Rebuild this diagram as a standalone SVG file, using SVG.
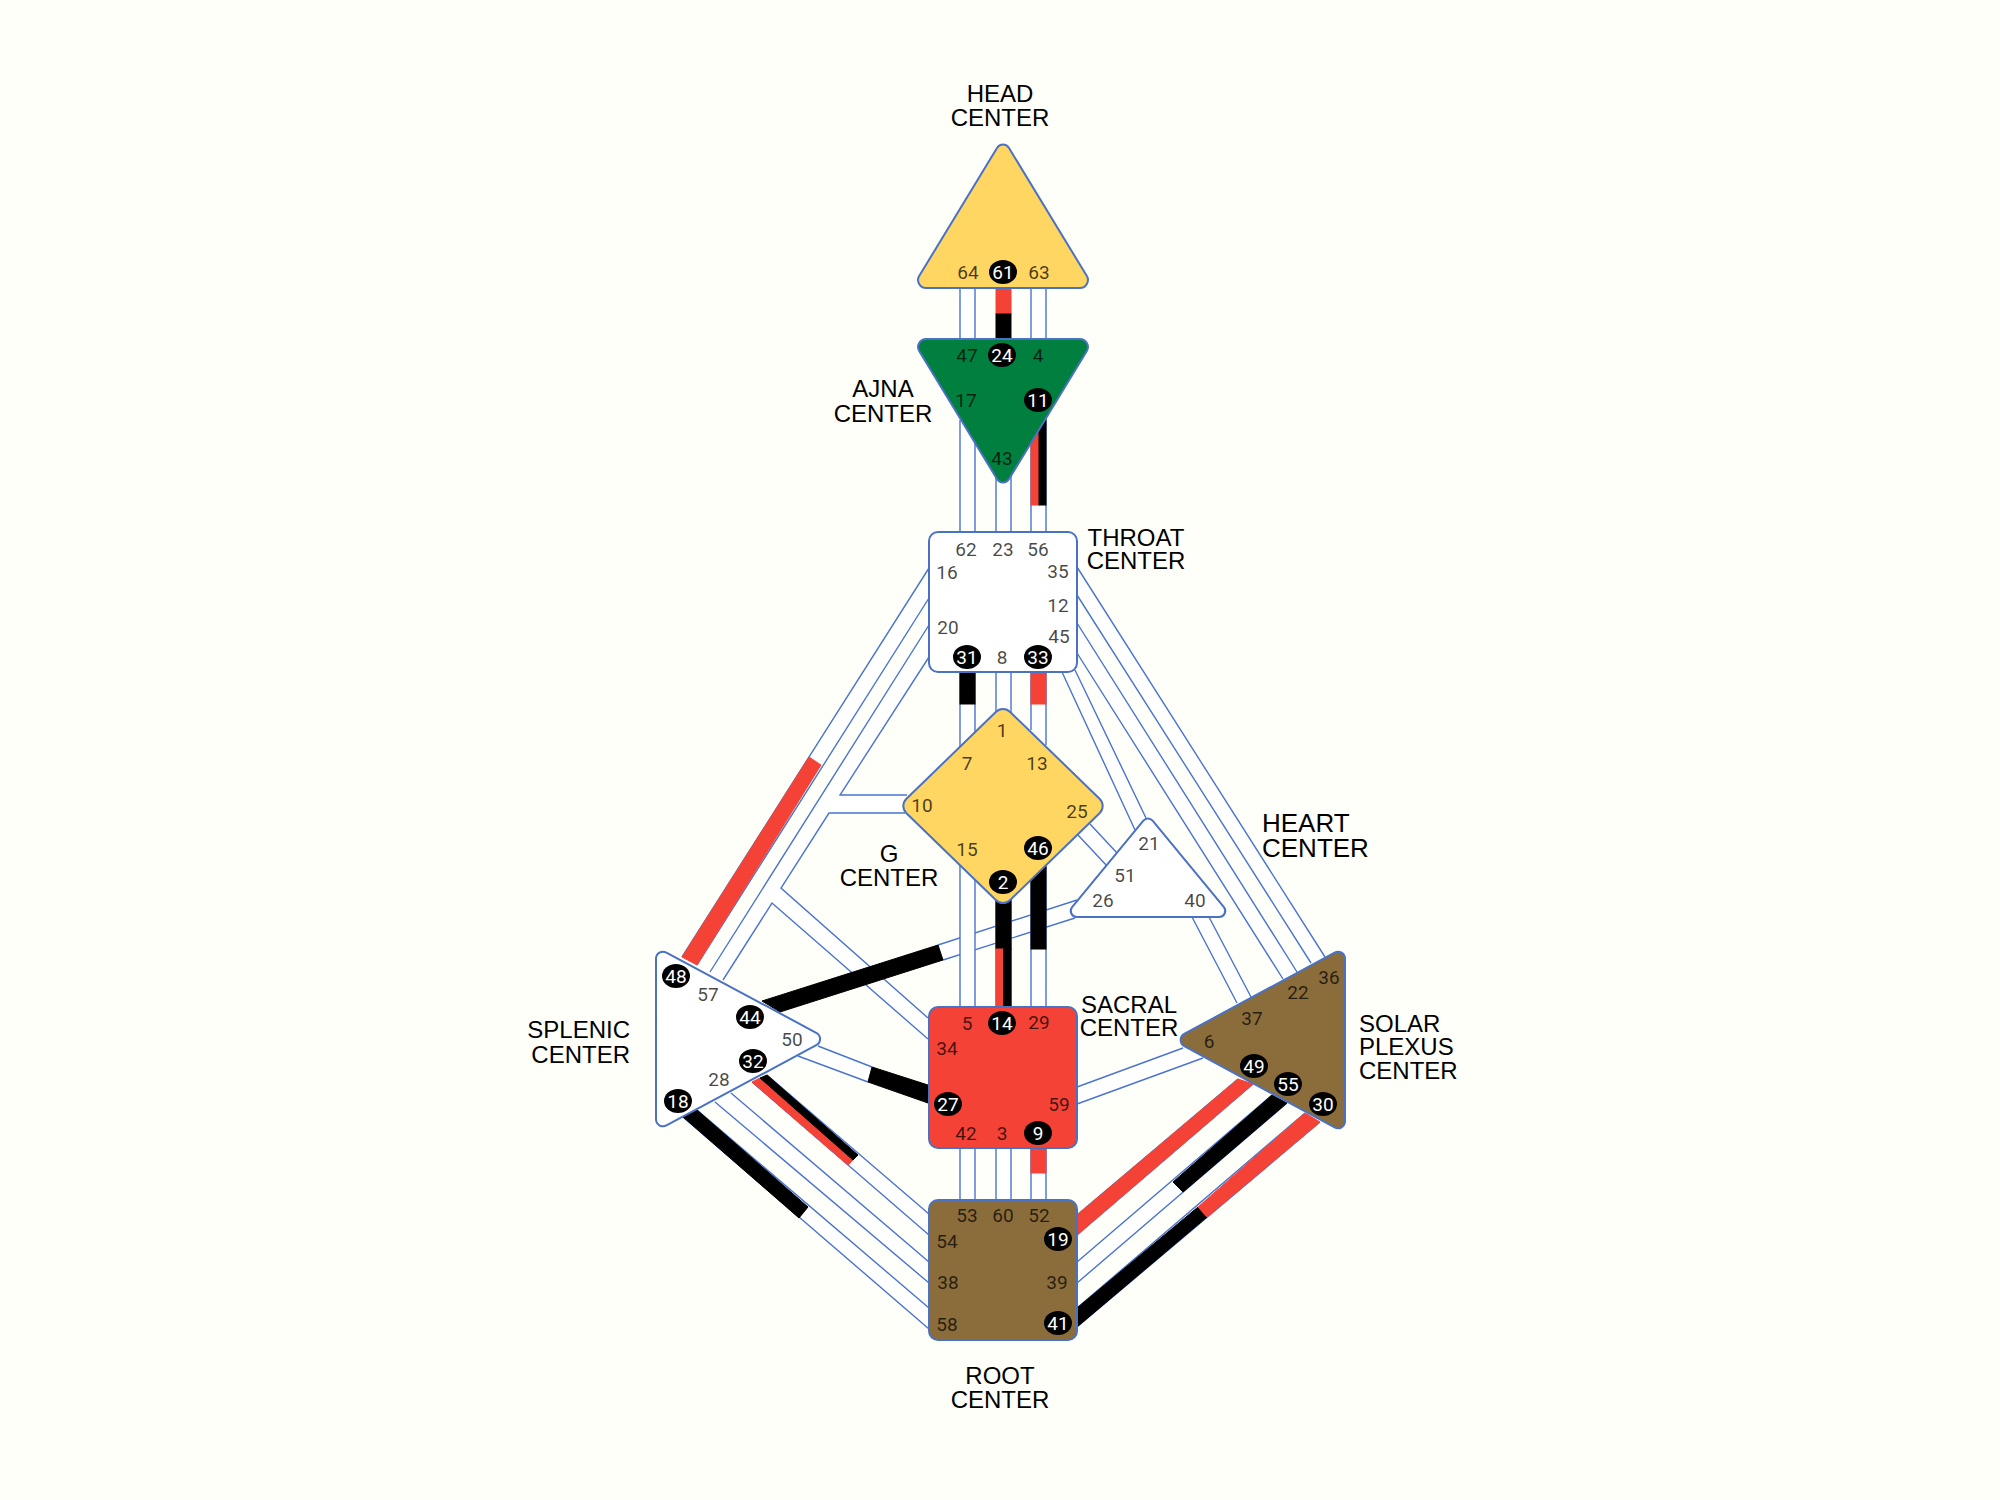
<svg xmlns="http://www.w3.org/2000/svg" width="2000" height="1500" viewBox="0 0 2000 1500">
<style>
.w{fill:#fff;stroke:none}
.l{fill:none;stroke:#4a74cf;stroke-width:1.4}
.k{fill:#000;stroke:#000;stroke-width:1}
.r{fill:#f44336;stroke:#f44336;stroke-width:1}
.n{stroke:#4a72c4;stroke-width:2}
.g{font-family:Roboto,"Liberation Sans",sans-serif;font-size:19px;text-anchor:middle;fill:#000;fill-opacity:.72}
.a{fill:#000;stroke:none}
.t{font-family:Roboto,"Liberation Sans",sans-serif;font-size:19px;text-anchor:middle;fill:#fff}
.c{font-family:"Liberation Sans",Arial,sans-serif;font-size:24px;fill:#000;text-anchor:middle}
.s{text-anchor:start}
.e{text-anchor:end}
.h{font-size:26px;text-anchor:start}
</style>
<rect width="2000" height="1500" fill="#fffff9"/>
<g id="connectors">
  <path class="w" d="M929,568L929,598L697,965L682,957Z"/>
  <path class="l" d="M929,568L682,957M929,598L697,965"/>
  <path class="r" d="M809,757L821,765L697,965L682,957Z"/>
  <path class="w" d="M929,625L929,657L840,795L905,795L905,813L829,813L781,888L928,1018L928,1039L772,903L723,980L710,972Z"/>
  <path class="l" d="M929,625L710,972M929,657L840,795L907,795M905,813L829,813L781,888L928,1018M928,1039L772,903L723,980"/>
  <path class="w" d="M683,1117L697,1110L929,1308L929,1329Z"/>
  <path class="l" d="M683,1117L929,1329M697,1110L929,1308"/>
  <path class="k" d="M683,1117L697,1110L808,1207L799,1218Z"/>
  <path class="w" d="M715,1102L731,1093L929,1262L929,1283Z"/>
  <path class="l" d="M715,1102L929,1283M731,1093L929,1262"/>
  <path class="w" d="M752,1082L767,1075L929,1214L929,1235Z"/>
  <path class="l" d="M752,1082L929,1235M767,1075L929,1214"/>
  <path class="r" d="M752,1082L760,1078L853,1160L848,1165Z"/>
  <path class="k" d="M760,1078L767,1075L858,1155L853,1160Z"/>
  <path class="w" d="M818,1046L798,1056L868,1082L872,1067Z"/>
  <path class="l" d="M818,1046L872,1067M798,1056L868,1082"/>
  <path class="k" d="M872,1067L868,1082L928,1103L928,1085Z"/>
  <path class="w" d="M1077,1087L1183,1048L1203,1058L1077,1104Z"/>
  <path class="l" d="M1077,1087L1183,1048M1077,1104L1203,1058"/>
  <path class="l" d="M1077,1215L1238,1079M1077,1235L1253,1084"/>
  <path class="r" d="M1077,1215L1238,1079L1253,1084L1077,1235Z"/>
  <path class="w" d="M1077,1262L1272,1095L1287,1103L1077,1283Z"/>
  <path class="l" d="M1077,1262L1272,1095M1077,1283L1287,1103"/>
  <path class="k" d="M1173,1182L1272,1095L1287,1103L1183,1192Z"/>
  <path class="l" d="M1077,1308L1305,1113M1077,1327L1320,1122"/>
  <path class="k" d="M1077,1308L1198,1207L1207,1217L1077,1327Z"/>
  <path class="r" d="M1198,1207L1305,1113L1320,1122L1207,1217Z"/>
  <path class="w" d="M1077,567L1325,957L1311,963L1077,595Z"/>
  <path class="l" d="M1077,567L1325,957M1077,595L1311,963"/>
  <path class="w" d="M1077,623L1297,972L1283,979L1077,653Z"/>
  <path class="l" d="M1077,623L1297,972M1077,653L1283,979"/>
  <path class="w" d="M1062,672L1075,670L1146,818L1135,830Z"/>
  <path class="l" d="M1062,672L1135,830M1075,670L1146,818"/>
  <path class="w" d="M1192,917L1209,917L1251,997L1237,1003Z"/>
  <path class="l" d="M1192,917L1237,1003M1209,917L1251,997"/>
  <path class="w" d="M1090,824L1117,853L1107,866L1078,835Z"/>
  <path class="l" d="M1090,824L1117,853M1078,835L1107,866"/>
  <path class="w" d="M938,945L1077,900L1075,918L943,960Z"/>
  <path class="l" d="M938,945L1077,900M943,960L1075,918"/>
  <path class="k" d="M762,1001L938,945L943,960L780,1012Z"/>
  <path class="w" d="M960,288H975V340H960ZM1031,288H1046V340H1031ZM960,420H975V532H960ZM996,470H1011V532H996ZM1031,420H1046V532H1031ZM960,672H975V760H960ZM996,672H1011V720H996ZM1031,672H1046V760H1031ZM960,850H975V1007H960ZM1031,860H1046V1007H1031ZM960,1148H975V1200H960ZM996,1148H1011V1200H996ZM1031,1148H1046V1200H1031Z"/>
  <path class="l" d="M960,288V340M975,288V340M1031,288V340M1046,288V340M960,420V532M975,440V532M996,470V532M1011,470V532M1031,420V532M1046,420V532M960,672V760M975,672V740M996,672V720M1011,672V720M1031,672V730M1046,672V745M960,850V1007M975,870V1007M996,890V1007M1011,890V1007M1031,870V1007M1046,850V1007M960,1148V1200M975,1148V1200M996,1148V1200M1011,1148V1200M1031,1148V1200M1046,1148V1200"/>
  <rect class="r" x="996" y="288" width="15" height="26"/>
  <rect class="k" x="996" y="314" width="15" height="26"/>
  <rect class="r" x="1031" y="420" width="8" height="85"/>
  <rect class="k" x="1039" y="410" width="7" height="95"/>
  <rect class="k" x="960" y="672" width="15" height="32"/>
  <rect class="r" x="1031" y="672" width="15" height="32"/>
  <rect class="k" x="996" y="885" width="15" height="64"/>
  <rect class="r" x="996" y="949" width="8" height="58"/>
  <rect class="k" x="1003.500" y="949" width="7.500" height="58"/>
  <rect class="k" x="1031" y="860" width="15" height="89"/>
  <rect class="r" x="1031" y="1148" width="15" height="25"/>
</g>
<g id="head-center">
  <path class="n" fill="#ffd662" d="M997,148A7,7 0 0 1 1009,148L1086.700,275.800A8,8 0 0 1 1079.800,288L926.200,288A8,8 0 0 1 919.300,275.800Z"/>
  <ellipse class="a" cx="1003" cy="272" rx="14" ry="12"/>
  <text class="g" x="968" y="279">64</text><text class="t" x="1003" y="279">61</text><text class="g" x="1039" y="279">63</text>
  <text class="c" x="1000" y="102">HEAD</text><text class="c" x="1000" y="126">CENTER</text>
</g>
<g id="ajna-center">
  <path class="n" fill="#017f3f" d="M926.200,339L1079.800,339A8,8 0 0 1 1086.700,351.200L1009,479.100A7,7 0 0 1 997,479.100L919.300,351.200A8,8 0 0 1 926.200,339Z"/>
  <ellipse class="a" cx="1002" cy="355" rx="14" ry="12"/><ellipse class="a" cx="1038" cy="400" rx="14" ry="12"/>
  <text class="g" x="967" y="362">47</text><text class="t" x="1002" y="362">24</text><text class="g" x="1038" y="362">4</text>
  <text class="g" x="966" y="407">17</text><text class="t" x="1038" y="407">11</text><text class="g" x="1002" y="465">43</text>
  <text class="c" x="883" y="397">AJNA</text><text class="c" x="883" y="422">CENTER</text>
</g>
<g id="throat-center">
  <rect class="n" fill="#fff" x="929" y="532" width="148" height="140" rx="9"/>
  <ellipse class="a" cx="967" cy="657" rx="14" ry="12"/><ellipse class="a" cx="1038" cy="657" rx="14" ry="12"/>
  <text class="g" x="966" y="556">62</text><text class="g" x="1003" y="556">23</text><text class="g" x="1038" y="556">56</text>
  <text class="g" x="947" y="579">16</text><text class="g" x="1058" y="578">35</text><text class="g" x="1058" y="612">12</text>
  <text class="g" x="948" y="634">20</text><text class="g" x="1059" y="643">45</text>
  <text class="t" x="967" y="664">31</text><text class="g" x="1002" y="664">8</text><text class="t" x="1038" y="664">33</text>
  <text class="c" x="1136" y="546">THROAT</text><text class="c" x="1136" y="569">CENTER</text>
</g>
<g id="g-center">
  <path class="n" fill="#ffd662" d="M995.800,712A10,10 0 0 1 1010.200,712L1099.800,799A10,10 0 0 1 1099.800,813L1010.200,900A10,10 0 0 1 995.800,900L906.200,813A10,10 0 0 1 906.200,799Z"/>
  <ellipse class="a" cx="1038" cy="848" rx="14" ry="12"/><ellipse class="a" cx="1003" cy="882" rx="14" ry="12"/>
  <text class="g" x="1002" y="737">1</text><text class="g" x="967" y="770">7</text><text class="g" x="1037" y="770">13</text>
  <text class="g" x="922" y="812">10</text><text class="g" x="1077" y="818">25</text><text class="g" x="967" y="856">15</text>
  <text class="t" x="1038" y="855">46</text><text class="t" x="1003" y="889">2</text>
  <text class="c" x="889" y="862">G</text><text class="c" x="889" y="886">CENTER</text>
</g>
<g id="heart-center">
  <path class="n" fill="#fff" d="M1143.400,820.600A6,6 0 0 1 1152.600,820.600L1223.900,907.200A6,6 0 0 1 1219.300,917L1076.700,917A6,6 0 0 1 1072.100,907.200Z"/>
  <text class="g" x="1149" y="850">21</text><text class="g" x="1125" y="882">51</text><text class="g" x="1103" y="907">26</text><text class="g" x="1195" y="907">40</text>
  <text class="c h" x="1262" y="832">HEART</text><text class="c h" x="1262" y="857">CENTER</text>
</g>
<g id="splenic-center">
  <path class="n" fill="#fff" d="M656,958.800A7,7 0 0 1 666.400,952.600L816.700,1033A7,7 0 0 1 816.700,1045L666.400,1125.400A7,7 0 0 1 656,1119.200Z"/>
  <ellipse class="a" cx="676" cy="976" rx="14" ry="12"/><ellipse class="a" cx="750" cy="1017" rx="14" ry="12"/><ellipse class="a" cx="753" cy="1061" rx="14" ry="12"/><ellipse class="a" cx="678" cy="1101" rx="14" ry="12"/>
  <text class="t" x="676" y="983">48</text><text class="g" x="708" y="1001">57</text><text class="t" x="750" y="1024">44</text><text class="g" x="792" y="1046">50</text>
  <text class="t" x="753" y="1068">32</text><text class="g" x="719" y="1086">28</text><text class="t" x="678" y="1108">18</text>
  <text class="c e" x="630" y="1038">SPLENIC</text><text class="c e" x="630" y="1063">CENTER</text>
</g>
<g id="sacral-center">
  <rect class="n" fill="#f44336" x="929" y="1007" width="148" height="141" rx="9"/>
  <ellipse class="a" cx="1002" cy="1023" rx="14" ry="12"/><ellipse class="a" cx="948" cy="1104" rx="14" ry="12"/><ellipse class="a" cx="1038" cy="1133" rx="14" ry="12"/>
  <text class="g" x="967" y="1030">5</text><text class="t" x="1002" y="1030">14</text><text class="g" x="1039" y="1029">29</text>
  <text class="g" x="947" y="1055">34</text><text class="t" x="948" y="1111">27</text><text class="g" x="1059" y="1111">59</text>
  <text class="g" x="966" y="1140">42</text><text class="g" x="1002" y="1140">3</text><text class="t" x="1038" y="1140">9</text>
  <text class="c" x="1129" y="1013">SACRAL</text><text class="c" x="1129" y="1036">CENTER</text>
</g>
<g id="solar-plexus-center">
  <path class="n" fill="#8a6d3b" d="M1184.200,1033.900L1334.600,952.600A7,7 0 0 1 1345,958.800L1345,1121.200A7,7 0 0 1 1334.600,1127.400L1184.200,1046.100A7,7 0 0 1 1184.200,1033.900Z"/>
  <ellipse class="a" cx="1254" cy="1066" rx="14" ry="12"/><ellipse class="a" cx="1288" cy="1084" rx="14" ry="12"/><ellipse class="a" cx="1323" cy="1104" rx="14" ry="12"/>
  <text class="g" x="1329" y="984">36</text><text class="g" x="1298" y="999">22</text><text class="g" x="1252" y="1025">37</text><text class="g" x="1209" y="1048">6</text>
  <text class="t" x="1254" y="1073">49</text><text class="t" x="1288" y="1091">55</text><text class="t" x="1323" y="1111">30</text>
  <text class="c s" x="1359" y="1032">SOLAR</text><text class="c s" x="1359" y="1055">PLEXUS</text><text class="c s" x="1359" y="1079">CENTER</text>
</g>
<g id="root-center">
  <rect class="n" fill="#8a6d3b" x="929" y="1200" width="148" height="140" rx="9"/>
  <ellipse class="a" cx="1058" cy="1239" rx="14" ry="12"/><ellipse class="a" cx="1058" cy="1323" rx="14" ry="12"/>
  <text class="g" x="967" y="1222">53</text><text class="g" x="1003" y="1222">60</text><text class="g" x="1039" y="1222">52</text>
  <text class="g" x="947" y="1248">54</text><text class="t" x="1058" y="1246">19</text><text class="g" x="948" y="1289">38</text><text class="g" x="1057" y="1289">39</text>
  <text class="g" x="947" y="1331">58</text><text class="t" x="1058" y="1330">41</text>
  <text class="c" x="1000" y="1384">ROOT</text><text class="c" x="1000" y="1408">CENTER</text>
</g>
</svg>
